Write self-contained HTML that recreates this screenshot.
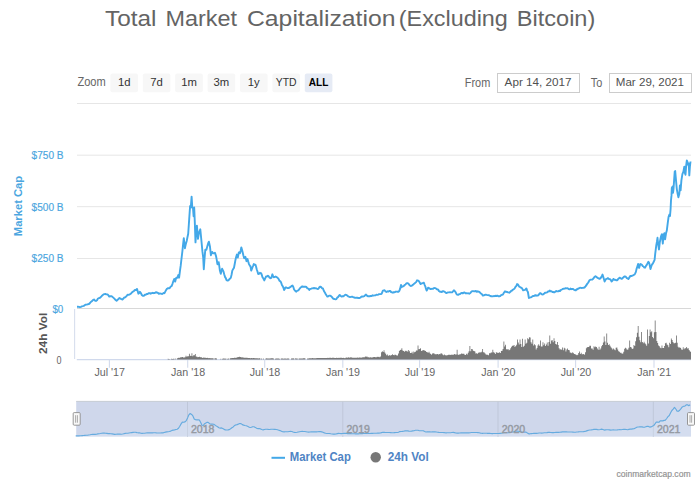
<!DOCTYPE html>
<html>
<head>
<meta charset="utf-8">
<title>Total Market Capitalization (Excluding Bitcoin)</title>
<style>
html,body{margin:0;padding:0;background:#fff;}
body{width:700px;height:481px;overflow:hidden;font-family:"Liberation Sans",sans-serif;}
svg{display:block;}
text{font-family:"Liberation Sans",sans-serif;}
</style>
</head>
<body>
<svg width="700" height="481" viewBox="0 0 700 481">
<rect x="0" y="0" width="700" height="481" fill="#ffffff"/>

<!-- title -->
<g font-size="22" fill="#646464">
<text x="105" y="26" textLength="51.5" lengthAdjust="spacingAndGlyphs">Total</text>
<text x="165.5" y="26" textLength="71.5" lengthAdjust="spacingAndGlyphs">Market</text>
<text x="247" y="26" textLength="148.5" lengthAdjust="spacingAndGlyphs">Capitalization</text>
<text x="398.8" y="26" textLength="109" lengthAdjust="spacingAndGlyphs">(Excluding</text>
<text x="516.8" y="26" textLength="78.5" lengthAdjust="spacingAndGlyphs">Bitcoin)</text>
</g>

<!-- range selector -->
<text x="77.4" y="86.4" font-size="12.3" fill="#666666" textLength="28.3" lengthAdjust="spacingAndGlyphs">Zoom</text>
<g font-size="11.3" fill="#333333" text-anchor="middle">
<rect x="110.4" y="73.6" width="27.6" height="18.6" rx="2" fill="#f7f7f7"/>
<text x="124.2" y="86.2">1d</text>
<rect x="142.8" y="73.6" width="27.6" height="18.6" rx="2" fill="#f7f7f7"/>
<text x="156.6" y="86.2">7d</text>
<rect x="175.2" y="73.6" width="27.6" height="18.6" rx="2" fill="#f7f7f7"/>
<text x="189.0" y="86.2">1m</text>
<rect x="207.6" y="73.6" width="27.6" height="18.6" rx="2" fill="#f7f7f7"/>
<text x="221.4" y="86.2">3m</text>
<rect x="240.0" y="73.6" width="27.6" height="18.6" rx="2" fill="#f7f7f7"/>
<text x="253.8" y="86.2">1y</text>
<rect x="272.4" y="73.6" width="27.6" height="18.6" rx="2" fill="#f7f7f7"/>
<text x="286.2" y="86.2" textLength="20.8" lengthAdjust="spacingAndGlyphs">YTD</text>
<rect x="304.8" y="73.6" width="27.6" height="18.6" rx="2" fill="#e6ebf5"/>
<text x="318.6" y="86.2" font-weight="bold" fill="#000000" textLength="19.6" lengthAdjust="spacingAndGlyphs">ALL</text>
</g>

<text x="464.8" y="86.6" font-size="12" fill="#666666" textLength="25.5" lengthAdjust="spacingAndGlyphs">From</text>
<rect x="497.5" y="73.5" width="82" height="19" fill="#ffffff" stroke="#cccccc" stroke-width="1"/>
<text x="538.1" y="86.3" font-size="11.8" fill="#505050" text-anchor="middle" textLength="67" lengthAdjust="spacingAndGlyphs">Apr 14, 2017</text>
<text x="590.8" y="86.6" font-size="12" fill="#666666" textLength="11.5" lengthAdjust="spacingAndGlyphs">To</text>
<rect x="609.5" y="73.5" width="82" height="19" fill="#ffffff" stroke="#cccccc" stroke-width="1"/>
<text x="649.9" y="86.3" font-size="11.8" fill="#505050" text-anchor="middle" textLength="68.2" lengthAdjust="spacingAndGlyphs">Mar 29, 2021</text>

<!-- separator -->
<line x1="77" y1="103.5" x2="691" y2="103.5" stroke="#e6e6e6" stroke-width="1"/>

<!-- grid lines -->
<g stroke="#e6e6e6" stroke-width="1">
<line x1="77" y1="155.2" x2="691" y2="155.2"/>
<line x1="77" y1="206.7" x2="691" y2="206.7"/>
<line x1="77" y1="258.5" x2="691" y2="258.5"/>
<line x1="77" y1="308.5" x2="691" y2="308.5" stroke="#d8d8d8"/>
</g>

<!-- y axis labels -->
<g font-size="10" fill="#4ba6e0" stroke="#4ba6e0" stroke-width="0.15">
<text x="31.6" y="159.4" textLength="32" lengthAdjust="spacingAndGlyphs">$750 B</text>
<text x="31.6" y="210.8" textLength="32" lengthAdjust="spacingAndGlyphs">$500 B</text>
<text x="31.6" y="261.9" textLength="32" lengthAdjust="spacingAndGlyphs">$250 B</text>
<text x="52.4" y="312.8" textLength="10.9" lengthAdjust="spacingAndGlyphs">$0</text>
</g>
<text x="56.6" y="363.5" font-size="10" fill="#666666" textLength="5" lengthAdjust="spacingAndGlyphs">0</text>

<!-- axis titles -->
<text transform="translate(21.6,236.2) rotate(-90)" font-size="11.2" font-weight="bold" fill="#4ba6e0" textLength="60.4" lengthAdjust="spacingAndGlyphs">Market Cap</text>
<text transform="translate(47.1,354) rotate(-90)" font-size="11.5" font-weight="bold" fill="#555555" textLength="41.2" lengthAdjust="spacingAndGlyphs">24h Vol</text>

<!-- volume axis line + x axis -->
<line x1="74.6" y1="309" x2="74.6" y2="358.9" stroke="#d8dfee" stroke-width="1.1"/>
<line x1="76.8" y1="359.6" x2="691" y2="359.6" stroke="#d0d9ec" stroke-width="1.1"/>
<g stroke="#d3dbec" stroke-width="1.1">
<line x1="109.4" y1="359.5" x2="109.4" y2="367.7"/>
<line x1="187.7" y1="359.5" x2="187.7" y2="367.7"/>
<line x1="264.7" y1="359.5" x2="264.7" y2="367.7"/>
<line x1="342.8" y1="359.5" x2="342.8" y2="367.7"/>
<line x1="419.6" y1="359.5" x2="419.6" y2="367.7"/>
<line x1="498.1" y1="359.5" x2="498.1" y2="367.7"/>
<line x1="575.6" y1="359.5" x2="575.6" y2="367.7"/>
<line x1="654.0" y1="359.5" x2="654.0" y2="367.7"/>
</g>
<g font-size="10.7" fill="#666666" text-anchor="middle">
<text x="109.7" y="375.9">Jul '17</text>
<text x="188.1" y="375.9">Jan '18</text>
<text x="265" y="375.9">Jul '18</text>
<text x="343" y="375.9">Jan '19</text>
<text x="420" y="375.9">Jul '19</text>
<text x="498.3" y="375.9">Jan '20</text>
<text x="576" y="375.9">Jul '20</text>
<text x="654.2" y="375.9">Jan '21</text>
</g>

<!-- volume -->
<path d="M166 359.5L166.00 359.50 L166.85 359.50L166.85 359.50 L167.70 359.50L167.70 358.80 L168.55 358.80L168.55 358.96 L169.40 358.96L169.40 359.13 L170.25 359.13L170.25 359.50 L171.10 359.50L171.10 358.86 L171.95 358.86L171.95 358.92 L172.80 358.92L172.80 358.83 L173.65 358.83L173.65 358.87 L174.50 358.87L174.50 359.50 L175.35 359.50L175.35 358.53 L176.20 358.53L176.20 359.50 L177.05 359.50L177.05 358.27 L177.90 358.27L177.90 357.80 L178.75 357.80L178.75 357.89 L179.60 357.89L179.60 357.42 L180.45 357.42L180.45 357.13 L181.30 357.13L181.30 357.16 L182.15 357.16L182.15 357.02 L183.00 357.02L183.00 357.53 L183.85 357.53L183.85 357.59 L184.70 357.59L184.70 357.28 L185.55 357.28L185.55 355.70 L186.40 355.70L186.40 356.69 L187.25 356.69L187.25 356.32 L188.10 356.32L188.10 356.24 L188.95 356.24L188.95 353.70 L189.80 353.70L189.80 355.86 L190.65 355.86L190.65 355.96 L191.50 355.96L191.50 353.30 L192.35 353.30L192.35 356.13 L193.20 356.13L193.20 355.34 L194.05 355.34L194.05 355.28 L194.90 355.28L194.90 353.90 L195.75 353.90L195.75 356.62 L196.60 356.62L196.60 356.82 L197.45 356.82L197.45 357.18 L198.30 357.18L198.30 356.92 L199.15 356.92L199.15 356.85 L200.00 356.85L200.00 357.20 L200.85 357.20L200.85 357.03 L201.70 357.03L201.70 357.90 L202.55 357.90L202.55 357.75 L203.40 357.75L203.40 357.50 L204.25 357.50L204.25 357.83 L205.10 357.83L205.10 357.63 L205.95 357.63L205.95 358.03 L206.80 358.03L206.80 357.86 L207.65 357.86L207.65 357.99 L208.50 357.99L208.50 358.16 L209.35 358.16L209.35 358.08 L210.20 358.08L210.20 358.35 L211.05 358.35L211.05 358.28 L211.90 358.28L211.90 358.37 L212.75 358.37L212.75 358.22 L213.60 358.22L213.60 359.50 L214.45 359.50L214.45 358.35 L215.30 358.35L215.30 358.27 L216.15 358.27L216.15 358.53 L217.00 358.53L217.00 359.50 L217.85 359.50L217.85 359.50 L218.70 359.50L218.70 359.50 L219.55 359.50L219.55 359.50 L220.40 359.50L220.40 358.64 L221.25 358.64L221.25 359.50 L222.10 359.50L222.10 358.63 L222.95 358.63L222.95 358.54 L223.80 358.54L223.80 358.57 L224.65 358.57L224.65 358.72 L225.50 358.72L225.50 358.61 L226.35 358.61L226.35 359.50 L227.20 359.50L227.20 358.63 L228.05 358.63L228.05 358.47 L228.90 358.47L228.90 359.50 L229.75 359.50L229.75 358.33 L230.60 358.33L230.60 358.20 L231.45 358.20L231.45 357.95 L232.30 357.95L232.30 357.97 L233.15 357.97L233.15 357.97 L234.00 357.97L234.00 357.84 L234.85 357.84L234.85 357.72 L235.70 357.72L235.70 357.94 L236.55 357.94L236.55 357.27 L237.40 357.27L237.40 357.17 L238.25 357.17L238.25 356.93 L239.10 356.93L239.10 356.81 L239.95 356.81L239.95 357.12 L240.80 357.12L240.80 357.21 L241.65 357.21L241.65 357.52 L242.50 357.52L242.50 357.26 L243.35 357.26L243.35 357.72 L244.20 357.72L244.20 357.76 L245.05 357.76L245.05 357.72 L245.90 357.72L245.90 357.80 L246.75 357.80L246.75 357.76 L247.60 357.76L247.60 358.00 L248.45 358.00L248.45 358.10 L249.30 358.10L249.30 358.09 L250.15 358.09L250.15 358.18 L251.00 358.18L251.00 358.08 L251.85 358.08L251.85 358.26 L252.70 358.26L252.70 357.90 L253.55 357.90L253.55 358.04 L254.40 358.04L254.40 358.27 L255.25 358.27L255.25 358.25 L256.10 358.25L256.10 358.24 L256.95 358.24L256.95 358.27 L257.80 358.27L257.80 358.40 L258.65 358.40L258.65 358.16 L259.50 358.16L259.50 358.35 L260.35 358.35L260.35 359.50 L261.20 359.50L261.20 358.47 L262.05 358.47L262.05 359.50 L262.90 359.50L262.90 358.61 L263.75 358.61L263.75 359.50 L264.60 359.50L264.60 359.50 L265.45 359.50L265.45 358.45 L266.30 358.45L266.30 358.34 L267.15 358.34L267.15 358.53 L268.00 358.53L268.00 358.56 L268.85 358.56L268.85 358.44 L269.70 358.44L269.70 358.51 L270.55 358.51L270.55 358.36 L271.40 358.36L271.40 358.35 L272.25 358.35L272.25 358.37 L273.10 358.37L273.10 358.57 L273.95 358.57L273.95 359.50 L274.80 359.50L274.80 358.65 L275.65 358.65L275.65 358.58 L276.50 358.58L276.50 358.38 L277.35 358.38L277.35 358.39 L278.20 358.39L278.20 358.39 L279.05 358.39L279.05 358.63 L279.90 358.63L279.90 359.50 L280.75 359.50L280.75 358.51 L281.60 358.51L281.60 358.45 L282.45 358.45L282.45 358.50 L283.30 358.50L283.30 358.67 L284.15 358.67L284.15 358.43 L285.00 358.43L285.00 358.47 L285.85 358.47L285.85 358.65 L286.70 358.65L286.70 358.60 L287.55 358.60L287.55 358.41 L288.40 358.41L288.40 358.58 L289.25 358.58L289.25 359.50 L290.10 359.50L290.10 359.50 L290.95 359.50L290.95 358.39 L291.80 358.39L291.80 358.61 L292.65 358.61L292.65 358.33 L293.50 358.33L293.50 358.52 L294.35 358.52L294.35 359.50 L295.20 359.50L295.20 358.28 L296.05 358.28L296.05 358.41 L296.90 358.41L296.90 358.43 L297.75 358.43L297.75 359.50 L298.60 359.50L298.60 358.46 L299.45 358.46L299.45 358.45 L300.30 358.45L300.30 358.44 L301.15 358.44L301.15 358.48 L302.00 358.48L302.00 358.39 L302.85 358.39L302.85 358.29 L303.70 358.29L303.70 358.35 L304.55 358.35L304.55 358.31 L305.40 358.31L305.40 359.50 L306.25 359.50L306.25 359.50 L307.10 359.50L307.10 358.47 L307.95 358.47L307.95 358.40 L308.80 358.40L308.80 358.18 L309.65 358.18L309.65 358.32 L310.50 358.32L310.50 358.23 L311.35 358.23L311.35 358.20 L312.20 358.20L312.20 358.09 L313.05 358.09L313.05 358.35 L313.90 358.35L313.90 358.15 L314.75 358.15L314.75 358.27 L315.60 358.27L315.60 358.24 L316.45 358.24L316.45 358.01 L317.30 358.01L317.30 358.11 L318.15 358.11L318.15 358.07 L319.00 358.07L319.00 357.96 L319.85 357.96L319.85 357.88 L320.70 357.88L320.70 358.09 L321.55 358.09L321.55 358.00 L322.40 358.00L322.40 358.04 L323.25 358.04L323.25 358.03 L324.10 358.03L324.10 357.94 L324.95 357.94L324.95 358.04 L325.80 358.04L325.80 358.00 L326.65 358.00L326.65 358.01 L327.50 358.01L327.50 357.79 L328.35 357.79L328.35 357.89 L329.20 357.89L329.20 357.80 L330.05 357.80L330.05 357.73 L330.90 357.73L330.90 358.04 L331.75 358.04L331.75 357.86 L332.60 357.86L332.60 357.64 L333.45 357.64L333.45 357.66 L334.30 357.66L334.30 358.00 L335.15 358.00L335.15 357.99 L336.00 357.99L336.00 357.78 L336.85 357.78L336.85 357.96 L337.70 357.96L337.70 357.84 L338.55 357.84L338.55 357.94 L339.40 357.94L339.40 357.65 L340.25 357.65L340.25 357.64 L341.10 357.64L341.10 357.64 L341.95 357.64L341.95 358.07 L342.80 358.07L342.80 357.84 L343.65 357.84L343.65 357.92 L344.50 357.92L344.50 358.19 L345.35 358.19L345.35 357.69 L346.20 357.69L346.20 357.49 L347.05 357.49L347.05 357.78 L347.90 357.78L347.90 357.34 L348.75 357.34L348.75 357.67 L349.60 357.67L349.60 357.62 L350.45 357.62L350.45 357.34 L351.30 357.34L351.30 357.44 L352.15 357.44L352.15 357.84 L353.00 357.84L353.00 357.69 L353.85 357.69L353.85 357.65 L354.70 357.65L354.70 357.76 L355.55 357.76L355.55 357.85 L356.40 357.85L356.40 357.79 L357.25 357.79L357.25 357.50 L358.10 357.50L358.10 357.87 L358.95 357.87L358.95 357.50 L359.80 357.50L359.80 357.52 L360.65 357.52L360.65 357.75 L361.50 357.75L361.50 357.48 L362.35 357.48L362.35 357.17 L363.20 357.17L363.20 357.14 L364.05 357.14L364.05 357.37 L364.90 357.37L364.90 356.53 L365.75 356.53L365.75 356.63 L366.60 356.63L366.60 356.48 L367.45 356.48L367.45 357.32 L368.30 357.32L368.30 357.32 L369.15 357.32L369.15 357.60 L370.00 357.60L370.00 357.19 L370.85 357.19L370.85 357.50 L371.70 357.50L371.70 357.57 L372.55 357.57L372.55 357.34 L373.40 357.34L373.40 356.96 L374.25 356.96L374.25 356.98 L375.10 356.98L375.10 357.33 L375.95 357.33L375.95 357.36 L376.80 357.36L376.80 356.71 L377.65 356.71L377.65 356.92 L378.50 356.92L378.50 356.75 L379.35 356.75L379.35 357.20 L380.20 357.20L380.20 356.57 L381.05 356.57L381.05 352.14 L381.90 352.14L381.90 351.13 L382.75 351.13L382.75 352.08 L383.60 352.08L383.60 350.20 L384.45 350.20L384.45 352.43 L385.30 352.43L385.30 353.81 L386.15 353.81L386.15 355.29 L387.00 355.29L387.00 354.50 L387.85 354.50L387.85 355.92 L388.70 355.92L388.70 355.07 L389.55 355.07L389.55 355.41 L390.40 355.41L390.40 355.40 L391.25 355.40L391.25 354.93 L392.10 354.93L392.10 354.21 L392.95 354.21L392.95 355.02 L393.80 355.02L393.80 355.18 L394.65 355.18L394.65 354.56 L395.50 354.56L395.50 355.11 L396.35 355.11L396.35 355.40 L397.20 355.40L397.20 355.39 L398.05 355.39L398.05 353.55 L398.90 353.55L398.90 351.10 L399.75 351.10L399.75 350.11 L400.60 350.11L400.60 349.79 L401.45 349.79L401.45 348.31 L402.30 348.31L402.30 350.47 L403.15 350.47L403.15 350.93 L404.00 350.93L404.00 351.65 L404.85 351.65L404.85 350.69 L405.70 350.69L405.70 351.34 L406.55 351.34L406.55 350.64 L407.40 350.64L407.40 351.70 L408.25 351.70L408.25 350.06 L409.10 350.06L409.10 351.36 L409.95 351.36L409.95 352.98 L410.80 352.98L410.80 353.08 L411.65 353.08L411.65 351.85 L412.50 351.85L412.50 353.38 L413.35 353.38L413.35 351.52 L414.20 351.52L414.20 352.15 L415.05 352.15L415.05 351.75 L415.90 351.75L415.90 350.47 L416.75 350.47L416.75 350.61 L417.60 350.61L417.60 345.50 L418.45 345.50L418.45 349.32 L419.30 349.32L419.30 348.97 L420.15 348.97L420.15 348.29 L421.00 348.29L421.00 350.92 L421.85 350.92L421.85 350.39 L422.70 350.39L422.70 350.32 L423.55 350.32L423.55 350.12 L424.40 350.12L424.40 350.71 L425.25 350.71L425.25 350.88 L426.10 350.88L426.10 352.04 L426.95 352.04L426.95 352.16 L427.80 352.16L427.80 352.66 L428.65 352.66L428.65 351.65 L429.50 351.65L429.50 353.33 L430.35 353.33L430.35 354.07 L431.20 354.07L431.20 354.75 L432.05 354.75L432.05 353.44 L432.90 353.44L432.90 353.29 L433.75 353.29L433.75 353.55 L434.60 353.55L434.60 354.20 L435.45 354.20L435.45 354.27 L436.30 354.27L436.30 354.19 L437.15 354.19L437.15 353.91 L438.00 353.91L438.00 354.47 L438.85 354.47L438.85 353.97 L439.70 353.97L439.70 354.31 L440.55 354.31L440.55 353.29 L441.40 353.29L441.40 353.60 L442.25 353.60L442.25 354.57 L443.10 354.57L443.10 355.30 L443.95 355.30L443.95 354.40 L444.80 354.40L444.80 355.27 L445.65 355.27L445.65 355.15 L446.50 355.15L446.50 355.61 L447.35 355.61L447.35 355.00 L448.20 355.00L448.20 354.80 L449.05 354.80L449.05 354.65 L449.90 354.65L449.90 355.00 L450.75 355.00L450.75 354.39 L451.60 354.39L451.60 355.09 L452.45 355.09L452.45 354.54 L453.30 354.54L453.30 354.72 L454.15 354.72L454.15 354.06 L455.00 354.06L455.00 354.60 L455.85 354.60L455.85 354.55 L456.70 354.55L456.70 349.80 L457.55 349.80L457.55 354.41 L458.40 354.41L458.40 354.95 L459.25 354.95L459.25 354.21 L460.10 354.21L460.10 354.13 L460.95 354.13L460.95 353.56 L461.80 353.56L461.80 353.73 L462.65 353.73L462.65 353.64 L463.50 353.64L463.50 353.67 L464.35 353.67L464.35 354.75 L465.20 354.75L465.20 355.12 L466.05 355.12L466.05 353.65 L466.90 353.65L466.90 354.40 L467.75 354.40L467.75 352.65 L468.60 352.65L468.60 351.24 L469.45 351.24L469.45 346.10 L470.30 346.10L470.30 351.22 L471.15 351.22L471.15 349.07 L472.00 349.07L472.00 349.23 L472.85 349.23L472.85 350.63 L473.70 350.63L473.70 351.00 L474.55 351.00L474.55 351.47 L475.40 351.47L475.40 353.53 L476.25 353.53L476.25 353.28 L477.10 353.28L477.10 353.65 L477.95 353.65L477.95 352.78 L478.80 352.78L478.80 352.57 L479.65 352.57L479.65 352.27 L480.50 352.27L480.50 352.61 L481.35 352.61L481.35 351.78 L482.20 351.78L482.20 348.90 L483.05 348.90L483.05 352.33 L483.90 352.33L483.90 352.44 L484.75 352.44L484.75 353.59 L485.60 353.59L485.60 354.42 L486.45 354.42L486.45 354.67 L487.30 354.67L487.30 354.76 L488.15 354.76L488.15 355.20 L489.00 355.20L489.00 353.33 L489.85 353.33L489.85 353.14 L490.70 353.14L490.70 352.60 L491.55 352.60L491.55 352.44 L492.40 352.44L492.40 349.80 L493.25 349.80L493.25 352.29 L494.10 352.29L494.10 352.85 L494.95 352.85L494.95 353.97 L495.80 353.97L495.80 352.33 L496.65 352.33L496.65 352.43 L497.50 352.43L497.50 352.94 L498.35 352.94L498.35 352.87 L499.20 352.87L499.20 352.20 L500.05 352.20L500.05 353.05 L500.90 353.05L500.90 350.91 L501.75 350.91L501.75 350.72 L502.60 350.72L502.60 348.93 L503.45 348.93L503.45 341.50 L504.30 341.50L504.30 346.39 L505.15 346.39L505.15 344.79 L506.00 344.79L506.00 349.34 L506.85 349.34L506.85 349.59 L507.70 349.59L507.70 348.90 L508.55 348.90L508.55 350.30 L509.40 350.30L509.40 349.78 L510.25 349.78L510.25 348.33 L511.10 348.33L511.10 346.73 L511.95 346.73L511.95 345.82 L512.80 345.82L512.80 345.85 L513.65 345.85L513.65 345.11 L514.50 345.11L514.50 346.89 L515.35 346.89L515.35 345.88 L516.20 345.88L516.20 344.64 L517.05 344.64L517.05 339.60 L517.90 339.60L517.90 342.61 L518.75 342.61L518.75 344.48 L519.60 344.48L519.60 339.60 L520.45 339.60L520.45 344.11 L521.30 344.11L521.30 347.10 L522.15 347.10L522.15 338.70 L523.00 338.70L523.00 346.63 L523.85 346.63L523.85 345.76 L524.70 345.76L524.70 339.60 L525.55 339.60L525.55 343.64 L526.40 343.64L526.40 342.79 L527.25 342.79L527.25 338.28 L528.10 338.28L528.10 339.23 L528.95 339.23L528.95 337.15 L529.80 337.15L529.80 337.52 L530.65 337.52L530.65 342.30 L531.50 342.30L531.50 343.84 L532.35 343.84L532.35 339.48 L533.20 339.48L533.20 345.62 L534.05 345.62L534.05 344.14 L534.90 344.14L534.90 345.23 L535.75 345.23L535.75 349.56 L536.60 349.56L536.60 347.88 L537.45 347.88L537.45 345.59 L538.30 345.59L538.30 344.19 L539.15 344.19L539.15 345.70 L540.00 345.70L540.00 340.60 L540.85 340.60L540.85 346.51 L541.70 346.51L541.70 346.51 L542.55 346.51L542.55 342.27 L543.40 342.27L543.40 345.36 L544.25 345.36L544.25 343.53 L545.10 343.53L545.10 346.03 L545.95 346.03L545.95 344.57 L546.80 344.57L546.80 342.40 L547.65 342.40L547.65 345.81 L548.50 345.81L548.50 341.88 L549.35 341.88L549.35 335.50 L550.20 335.50L550.20 343.65 L551.05 343.65L551.05 340.59 L551.90 340.59L551.90 340.24 L552.75 340.24L552.75 342.30 L553.60 342.30L553.60 338.35 L554.45 338.35L554.45 341.12 L555.30 341.12L555.30 344.09 L556.15 344.09L556.15 344.48 L557.00 344.48L557.00 342.07 L557.85 342.07L557.85 344.94 L558.70 344.94L558.70 348.16 L559.55 348.16L559.55 349.46 L560.40 349.46L560.40 349.23 L561.25 349.23L561.25 349.73 L562.10 349.73L562.10 347.45 L562.95 347.45L562.95 350.32 L563.80 350.32L563.80 347.75 L564.65 347.75L564.65 348.44 L565.50 348.44L565.50 351.51 L566.35 351.51L566.35 349.51 L567.20 349.51L567.20 348.50 L568.05 348.50L568.05 349.96 L568.90 349.96L568.90 350.17 L569.75 350.17L569.75 352.39 L570.60 352.39L570.60 352.82 L571.45 352.82L571.45 353.21 L572.30 353.21L572.30 352.28 L573.15 352.28L573.15 353.36 L574.00 353.36L574.00 354.05 L574.85 354.05L574.85 354.19 L575.70 354.19L575.70 354.70 L576.55 354.70L576.55 355.25 L577.40 355.25L577.40 354.79 L578.25 354.79L578.25 353.05 L579.10 353.05L579.10 351.50 L579.95 351.50L579.95 353.98 L580.80 353.98L580.80 352.87 L581.65 352.87L581.65 354.22 L582.50 354.22L582.50 354.31 L583.35 354.31L583.35 354.04 L584.20 354.04L584.20 354.74 L585.05 354.74L585.05 352.28 L585.90 352.28L585.90 348.31 L586.75 348.31L586.75 347.36 L587.60 347.36L587.60 347.01 L588.45 347.01L588.45 347.10 L589.30 347.10L589.30 345.78 L590.15 345.78L590.15 345.67 L591.00 345.67L591.00 348.41 L591.85 348.41L591.85 348.45 L592.70 348.45L592.70 349.77 L593.55 349.77L593.55 346.24 L594.40 346.24L594.40 347.34 L595.25 347.34L595.25 346.41 L596.10 346.41L596.10 347.06 L596.95 347.06L596.95 348.61 L597.80 348.61L597.80 349.68 L598.65 349.68L598.65 346.80 L599.50 346.80L599.50 349.86 L600.35 349.86L600.35 348.47 L601.20 348.47L601.20 346.18 L602.05 346.18L602.05 345.05 L602.90 345.05L602.90 342.46 L603.75 342.46L603.75 336.50 L604.60 336.50L604.60 341.51 L605.45 341.51L605.45 345.06 L606.30 345.06L606.30 333.50 L607.15 333.50L607.15 342.84 L608.00 342.84L608.00 345.05 L608.85 345.05L608.85 344.36 L609.70 344.36L609.70 345.73 L610.55 345.73L610.55 347.30 L611.40 347.30L611.40 348.30 L612.25 348.30L612.25 349.58 L613.10 349.58L613.10 348.53 L613.95 348.53L613.95 349.58 L614.80 349.58L614.80 350.27 L615.65 350.27L615.65 347.84 L616.50 347.84L616.50 347.55 L617.35 347.55L617.35 349.54 L618.20 349.54L618.20 351.25 L619.05 351.25L619.05 351.82 L619.90 351.82L619.90 352.80 L620.75 352.80L620.75 352.73 L621.60 352.73L621.60 353.76 L622.45 353.76L622.45 353.62 L623.30 353.62L623.30 351.71 L624.15 351.71L624.15 348.82 L625.00 348.82L625.00 347.77 L625.85 347.77L625.85 348.52 L626.70 348.52L626.70 349.86 L627.55 349.86L627.55 349.58 L628.40 349.58L628.40 347.74 L629.25 347.74L629.25 340.50 L630.10 340.50L630.10 347.07 L630.95 347.07L630.95 347.54 L631.80 347.54L631.80 348.93 L632.65 348.93L632.65 348.40 L633.50 348.40L633.50 345.08 L634.35 345.08L634.35 345.93 L635.20 345.93L635.20 341.25 L636.05 341.25L636.05 337.37 L636.90 337.37L636.90 332.83 L637.75 332.83L637.75 326.10 L638.60 326.10L638.60 336.80 L639.45 336.80L639.45 340.25 L640.30 340.25L640.30 342.29 L641.15 342.29L641.15 332.10 L642.00 332.10L642.00 341.92 L642.85 341.92L642.85 343.33 L643.70 343.33L643.70 341.80 L644.55 341.80L644.55 343.21 L645.40 343.21L645.40 344.18 L646.25 344.18L646.25 345.75 L647.10 345.75L647.10 329.50 L647.95 329.50L647.95 343.54 L648.80 343.54L648.80 336.02 L649.65 336.02L649.65 329.48 L650.50 329.48L650.50 332.34 L651.35 332.34L651.35 331.36 L652.20 331.36L652.20 336.94 L653.05 336.94L653.05 338.31 L653.90 338.31L653.90 332.35 L654.75 332.35L654.75 320.50 L655.60 320.50L655.60 332.00 L656.45 332.00L656.45 340.93 L657.30 340.93L657.30 342.88 L658.15 342.88L658.15 345.51 L659.00 345.51L659.00 346.18 L659.85 346.18L659.85 347.76 L660.70 347.76L660.70 348.26 L661.55 348.26L661.55 345.50 L662.40 345.50L662.40 347.90 L663.25 347.90L663.25 347.89 L664.10 347.89L664.10 345.95 L664.95 345.95L664.95 343.29 L665.80 343.29L665.80 342.72 L666.65 342.72L666.65 344.48 L667.50 344.48L667.50 345.26 L668.35 345.26L668.35 347.16 L669.20 347.16L669.20 342.84 L670.05 342.84L670.05 344.02 L670.90 344.02L670.90 338.52 L671.75 338.52L671.75 339.93 L672.60 339.93L672.60 341.94 L673.45 341.94L673.45 343.34 L674.30 343.34L674.30 343.36 L675.15 343.36L675.15 342.81 L676.00 342.81L676.00 335.50 L676.85 335.50L676.85 342.86 L677.70 342.86L677.70 346.67 L678.55 346.67L678.55 347.86 L679.40 347.86L679.40 347.15 L680.25 347.15L680.25 348.05 L681.10 348.05L681.10 349.51 L681.95 349.51L681.95 349.79 L682.80 349.79L682.80 347.27 L683.65 347.27L683.65 349.33 L684.50 349.33L684.50 348.22 L685.35 348.22L685.35 348.15 L686.20 348.15L686.20 346.96 L687.05 346.96L687.05 348.60 L687.90 348.60L687.90 348.26 L688.75 348.26L688.75 349.96 L689.60 349.96L689.60 351.32 L690.45 351.32L690.45 352.03 L691.00 352.03L691 359.5 Z" fill="#777777" stroke="none"/>

<!-- main line -->
<path d="M77.0 306.8 L78.0 306.8 L79.0 306.9 L79.9 307.2 L80.9 306.8 L81.8 306.4 L82.8 306.1 L83.7 305.8 L84.6 305.3 L85.6 304.6 L86.6 304.6 L87.7 304.3 L88.7 304.1 L89.7 303.4 L90.8 302.0 L91.8 301.3 L92.9 300.1 L94.0 299.5 L95.0 300.6 L95.9 301.0 L97.0 300.2 L98.0 298.5 L99.1 298.0 L100.0 297.8 L100.9 297.0 L101.7 296.0 L102.6 295.2 L103.5 294.4 L104.4 294.1 L105.3 293.9 L106.2 294.4 L107.1 294.4 L107.8 294.7 L108.6 295.6 L109.3 296.6 L110.3 296.3 L111.2 296.1 L112.2 296.6 L113.3 297.6 L114.4 298.6 L115.5 300.0 L116.6 300.7 L117.6 299.8 L118.5 299.0 L119.5 298.0 L120.5 298.5 L121.4 299.2 L122.4 299.5 L123.4 298.5 L124.4 297.4 L125.5 297.2 L126.5 296.2 L127.5 294.8 L128.6 294.9 L129.7 294.4 L130.7 293.8 L131.8 292.6 L132.8 291.8 L133.9 291.0 L134.9 290.0 L136.0 290.0 L137.0 288.9 L137.7 291.2 L138.4 293.7 L139.2 293.1 L139.9 291.8 L140.9 293.1 L141.8 295.0 L142.8 295.9 L143.8 295.9 L144.7 294.7 L145.7 294.8 L146.7 294.0 L147.6 294.1 L148.6 293.2 L149.6 293.2 L150.6 293.7 L151.7 293.1 L152.7 292.8 L153.7 293.2 L154.4 293.0 L155.2 292.8 L155.9 292.2 L156.9 292.5 L157.8 292.8 L158.8 293.7 L159.9 293.5 L161.0 293.6 L161.9 294.0 L162.8 293.7 L163.6 292.9 L164.5 293.2 L165.4 291.4 L166.2 289.8 L167.1 288.7 L168.1 288.1 L169.0 288.4 L169.9 287.9 L170.7 286.5 L171.6 286.1 L172.5 283.8 L173.3 281.3 L174.2 279.0 L175.2 281.6 L176.1 278.1 L176.8 277.6 L177.4 277.7 L178.3 275.1 L179.1 277.7 L180.0 270.6 L180.7 265.7 L181.3 260.3 L182.4 251.2 L183.1 244.3 L183.8 238.1 L184.9 248.2 L185.7 244.6 L186.7 241.0 L187.4 237.5 L188.2 233.7 L189.2 219.1 L190.1 206.0 L190.8 207.5 L191.6 196.6 L192.3 207.5 L193.0 208.2 L193.6 216.2 L194.2 207.5 L194.8 222.0 L195.5 242.4 L196.2 232.2 L196.9 225.7 L198.0 238.8 L198.8 233.7 L199.6 231.1 L200.3 229.3 L201.3 239.5 L202.4 251.2 L203.2 257.7 L203.8 269.3 L204.6 257.7 L205.3 249.7 L206.4 249.7 L207.0 247.4 L207.6 245.3 L208.2 243.2 L208.9 241.7 L210.0 246.8 L210.9 255.2 L211.6 253.3 L212.2 251.9 L212.9 253.1 L213.7 253.3 L214.3 253.4 L215.0 252.8 L216.1 256.4 L216.8 260.1 L217.4 264.2 L218.1 263.6 L218.7 262.2 L219.3 266.1 L219.9 270.6 L220.8 273.8 L221.4 271.1 L222.1 268.7 L222.8 270.4 L223.4 271.3 L224.2 274.3 L225.1 277.1 L225.8 278.1 L226.4 279.9 L227.5 280.6 L228.6 280.3 L229.3 279.2 L230.1 278.5 L230.8 277.9 L231.6 274.5 L232.3 270.6 L233.2 269.0 L234.0 267.7 L234.8 263.5 L235.5 259.7 L236.2 256.7 L236.9 254.6 L237.8 257.5 L238.8 252.5 L239.4 252.4 L240.0 253.2 L240.7 250.4 L241.3 247.4 L242.0 249.7 L242.7 252.5 L243.4 255.5 L244.2 258.3 L244.8 257.4 L245.4 256.8 L246.5 261.2 L247.5 259.0 L248.2 261.5 L249.0 264.1 L249.8 265.7 L250.5 266.3 L251.2 270.6 L251.9 268.8 L252.6 267.0 L253.2 265.6 L253.8 264.1 L254.7 264.8 L255.5 264.8 L256.1 266.7 L256.7 269.2 L257.4 271.3 L258.2 274.0 L259.0 273.8 L259.9 272.8 L260.5 273.3 L261.1 273.1 L261.8 274.9 L262.5 277.2 L263.4 278.5 L264.3 280.4 L265.1 278.7 L266.0 276.5 L266.9 276.5 L267.9 275.7 L268.6 276.3 L269.4 277.5 L270.4 278.2 L271.3 277.9 L272.4 274.3 L273.0 276.1 L273.7 277.2 L274.6 277.0 L275.6 276.5 L276.6 277.1 L277.7 277.9 L278.6 279.0 L279.5 280.8 L280.2 281.1 L281.0 282.3 L281.9 284.9 L282.9 286.6 L283.5 288.0 L284.1 290.0 L284.8 288.9 L285.4 287.4 L286.4 287.5 L287.5 288.1 L288.6 288.1 L289.7 287.4 L290.7 286.9 L291.6 286.0 L292.6 285.6 L293.4 287.2 L294.1 289.5 L295.2 290.8 L296.3 291.7 L297.4 290.6 L298.5 290.3 L299.6 288.7 L300.6 287.6 L301.4 287.0 L302.1 286.3 L303.2 286.8 L304.2 286.8 L305.3 286.6 L306.4 287.0 L307.4 288.4 L308.3 288.6 L309.3 289.9 L310.2 288.9 L311.2 288.7 L312.1 288.4 L313.1 288.3 L314.0 288.0 L315.0 288.4 L316.0 288.3 L316.9 288.7 L317.9 289.1 L318.7 288.3 L319.5 287.1 L320.3 286.6 L321.2 287.1 L322.0 288.2 L322.9 288.4 L323.9 291.0 L325.0 292.7 L325.8 294.2 L326.6 295.5 L327.4 296.6 L328.3 296.4 L329.1 295.6 L330.0 295.6 L331.0 296.1 L331.9 297.0 L332.9 298.4 L333.8 299.0 L334.6 299.0 L335.5 299.4 L336.4 299.1 L337.2 297.6 L338.0 297.1 L338.9 295.9 L339.7 294.9 L340.7 296.0 L341.7 296.6 L342.6 296.1 L343.4 296.4 L344.3 295.6 L345.4 294.8 L346.4 294.9 L347.2 295.5 L348.1 296.3 L348.9 296.7 L350.0 297.1 L351.0 296.9 L352.1 296.7 L353.2 297.2 L354.2 297.5 L355.3 297.9 L356.4 297.7 L357.2 297.7 L358.1 298.1 L358.9 298.0 L359.7 298.0 L360.6 297.5 L361.4 296.7 L362.1 296.5 L362.9 296.7 L363.6 296.3 L364.4 296.1 L365.2 295.2 L366.0 294.6 L366.9 295.6 L367.9 296.3 L368.8 296.1 L369.8 296.2 L370.7 296.0 L371.7 296.0 L372.6 295.3 L373.6 295.6 L374.5 295.4 L375.5 295.4 L376.4 294.6 L377.3 294.9 L378.2 294.6 L379.1 294.1 L380.0 294.1 L380.9 294.1 L381.7 293.7 L382.3 292.2 L382.9 290.6 L383.8 290.4 L384.6 290.3 L385.5 291.5 L386.4 292.0 L387.4 291.3 L388.3 291.6 L389.3 291.0 L390.2 291.0 L391.1 292.0 L392.0 292.3 L392.9 292.7 L393.8 292.1 L394.8 292.2 L395.7 291.6 L396.7 291.6 L397.6 291.8 L398.6 291.7 L399.3 290.8 L400.0 289.1 L401.0 284.9 L401.4 287.4 L402.1 286.8 L402.9 286.2 L403.6 286.3 L404.5 285.1 L405.5 284.5 L406.4 283.4 L407.1 283.2 L407.9 283.3 L408.6 283.7 L409.6 285.3 L410.7 286.0 L411.8 285.6 L412.9 284.9 L413.9 283.9 L415.0 283.1 L416.1 282.1 L417.1 280.3 L418.1 280.6 L419.0 281.3 L419.9 282.9 L420.7 284.1 L421.4 283.4 L422.1 283.4 L423.0 283.0 L423.9 282.7 L424.6 284.8 L425.3 286.3 L426.0 288.9 L426.7 290.6 L427.4 289.5 L428.1 287.7 L429.0 288.1 L429.8 288.7 L430.7 289.1 L431.8 288.8 L432.9 288.9 L433.9 288.1 L435.0 288.0 L436.0 288.5 L436.9 289.3 L437.9 289.4 L438.9 290.9 L440.0 291.7 L440.9 291.8 L441.8 292.0 L442.7 291.2 L443.6 291.3 L444.5 291.6 L445.5 292.5 L446.4 293.1 L447.3 292.7 L448.2 292.4 L449.1 292.4 L450.0 292.3 L451.1 292.4 L452.1 292.3 L453.0 291.3 L453.9 290.3 L454.8 291.1 L455.7 292.3 L456.4 293.8 L457.1 294.6 L458.1 294.9 L459.0 294.2 L460.0 294.1 L460.9 293.3 L461.8 292.9 L462.7 293.4 L463.6 292.7 L464.5 292.4 L465.5 293.2 L466.4 293.1 L467.4 293.4 L468.3 293.3 L469.3 293.7 L470.4 293.0 L471.4 291.7 L472.3 291.1 L473.2 291.1 L474.1 291.4 L475.0 291.3 L475.9 290.9 L476.8 291.8 L477.7 291.3 L478.6 291.7 L479.6 292.2 L480.7 293.4 L481.8 294.0 L482.9 295.6 L483.8 295.4 L484.8 294.9 L485.7 294.6 L486.7 294.9 L487.6 295.1 L488.6 295.1 L489.7 295.7 L490.8 296.2 L491.8 296.3 L492.9 296.4 L493.8 296.0 L494.6 296.2 L495.5 295.8 L496.4 296.0 L497.4 295.6 L498.3 296.2 L499.3 296.3 L500.2 296.1 L501.1 295.1 L502.0 294.8 L502.9 294.6 L503.9 292.8 L505.0 291.3 L506.1 291.8 L507.1 292.0 L508.2 292.4 L509.3 292.7 L510.4 291.8 L511.4 290.6 L512.1 290.5 L512.9 289.7 L513.6 289.4 L514.7 288.3 L515.7 286.6 L516.4 285.8 L517.1 284.1 L517.9 284.4 L518.6 285.6 L519.3 286.7 L520.0 287.0 L520.7 287.6 L521.4 287.7 L522.2 288.6 L523.1 290.3 L524.0 290.1 L525.0 289.9 L525.7 289.3 L526.4 288.4 L527.1 290.6 L527.9 292.0 L528.9 298.0 L529.8 297.6 L530.7 297.4 L531.8 296.8 L532.9 296.0 L533.7 296.1 L534.6 295.7 L535.4 295.1 L536.2 295.7 L537.1 295.4 L537.9 295.6 L538.7 294.9 L539.5 293.6 L540.3 293.1 L541.2 293.8 L542.0 294.4 L542.9 294.6 L544.0 293.8 L545.0 292.7 L546.0 292.7 L547.1 292.3 L548.0 291.4 L548.8 291.6 L549.7 290.6 L550.7 291.4 L551.7 291.3 L552.5 292.1 L553.2 292.0 L554.0 292.3 L554.8 292.2 L555.6 291.3 L556.4 291.0 L557.3 291.4 L558.2 291.4 L559.1 290.8 L560.0 291.0 L561.0 289.9 L561.9 289.5 L562.9 288.9 L563.8 288.7 L564.8 288.6 L565.7 288.1 L566.7 288.4 L567.6 288.3 L568.6 289.1 L569.5 289.4 L570.4 288.6 L571.2 289.2 L572.1 288.9 L573.1 289.0 L574.0 289.7 L575.0 290.3 L575.8 290.3 L576.6 289.3 L577.4 289.4 L578.3 288.5 L579.1 288.3 L580.0 287.7 L580.9 287.9 L581.8 288.0 L582.7 287.9 L583.6 287.7 L584.5 287.5 L585.5 286.4 L586.4 285.1 L587.2 283.9 L588.3 282.5 L589.4 280.3 L590.4 279.7 L591.3 279.6 L592.3 279.6 L593.4 278.5 L594.4 277.1 L595.5 276.2 L596.5 277.2 L597.4 277.7 L598.1 278.2 L598.9 278.5 L599.6 278.9 L600.5 278.3 L601.3 277.1 L601.9 275.9 L602.5 274.5 L603.0 276.1 L603.6 278.1 L604.6 281.5 L605.4 280.1 L606.1 278.9 L607.0 278.8 L608.0 278.1 L609.0 279.0 L610.0 279.1 L610.8 280.0 L611.6 281.5 L612.5 280.6 L613.4 278.9 L614.1 279.7 L614.9 279.7 L615.6 280.0 L616.5 280.2 L617.3 280.3 L618.1 279.1 L618.8 278.6 L619.6 277.7 L620.7 278.3 L621.7 278.9 L622.7 278.1 L623.6 277.1 L624.7 276.4 L625.8 276.7 L626.7 278.0 L627.5 278.3 L628.4 279.1 L629.4 277.4 L630.4 275.9 L631.3 276.1 L632.3 275.6 L633.0 275.3 L633.8 274.9 L634.5 274.5 L635.2 273.4 L635.9 271.9 L636.5 269.1 L637.1 267.2 L638.1 264.0 L639.1 267.9 L639.7 266.0 L640.3 264.0 L641.2 264.4 L642.1 265.0 L642.8 266.2 L643.5 266.5 L644.2 267.5 L645.0 267.7 L646.0 265.9 L646.9 264.6 L647.6 263.2 L648.4 261.8 L649.0 262.6 L649.5 264.2 L650.5 269.0 L651.2 266.7 L652.0 264.5 L652.8 263.6 L653.6 262.0 L654.6 259.9 L655.2 253.8 L656.3 245.1 L656.9 241.9 L657.5 237.8 L658.1 243.6 L659.0 249.5 L659.8 242.2 L660.4 239.3 L661.0 236.4 L661.9 234.2 L662.8 243.6 L663.6 234.9 L664.4 233.2 L665.1 239.3 L666.0 233.5 L666.8 230.6 L667.7 223.3 L668.6 216.7 L669.4 214.5 L670.0 216.0 L670.6 209.0 L671.0 200.3 L671.5 195.4 L671.8 187.9 L672.5 186.6 L673.0 192.9 L673.5 189.1 L674.1 180.4 L674.7 171.7 L675.2 171.1 L676.0 180.4 L676.8 189.1 L677.7 194.1 L678.4 197.2 L679.3 194.1 L679.9 185.4 L680.6 190.4 L681.4 180.4 L682.4 174.2 L683.4 171.7 L684.3 166.7 L684.9 172.9 L685.5 174.8 L686.2 165.4 L686.8 160.5 L687.4 161.7 L688.0 164.8 L688.7 163.6 L689.3 175.4 L689.9 166.7 L690.5 161.5" fill="none" stroke="#43a8e8" stroke-width="1.9" stroke-linejoin="round" stroke-linecap="butt"/>

<!-- navigator -->
<rect x="76.2" y="401.3" width="614.8" height="35.3" fill="#cfd7eb"/>
<g stroke="#bfc7d9" stroke-width="1">
<line x1="187.5" y1="401.5" x2="187.5" y2="436.8"/>
<line x1="342.8" y1="401.5" x2="342.8" y2="436.8"/>
<line x1="498" y1="401.5" x2="498" y2="436.8"/>
<line x1="653.3" y1="401.5" x2="653.3" y2="436.8"/>
</g>
<path d="M75.7 435.8 L77.0 435.8 L78.3 435.8 L79.6 435.8 L80.9 435.7 L82.2 435.6 L83.5 435.5 L84.8 435.4 L86.1 435.3 L87.4 435.2 L88.7 435.0 L90.0 434.8 L91.3 434.5 L92.6 434.4 L93.9 434.4 L95.2 434.4 L96.5 434.2 L97.8 433.9 L99.1 433.7 L100.4 433.5 L101.7 433.2 L103.0 433.1 L104.3 433.1 L105.6 433.2 L106.9 433.4 L108.2 433.6 L109.5 433.6 L110.8 433.7 L112.1 433.9 L113.4 434.1 L114.8 434.4 L116.1 434.3 L117.4 434.1 L118.7 434.0 L120.0 434.1 L121.3 434.2 L122.6 434.0 L123.9 433.7 L125.2 433.4 L126.5 433.2 L127.8 433.2 L129.1 433.0 L130.4 432.8 L131.7 432.6 L133.0 432.4 L134.3 432.2 L135.6 432.2 L136.9 432.6 L138.2 432.8 L139.5 432.8 L140.8 433.2 L142.1 433.4 L143.4 433.3 L144.7 433.2 L146.0 433.0 L147.3 432.9 L148.6 432.9 L149.9 432.9 L151.2 432.9 L152.5 432.9 L153.8 432.8 L155.1 432.7 L156.4 432.9 L157.7 433.0 L159.0 433.0 L160.3 433.0 L161.6 432.9 L162.9 432.9 L164.2 432.5 L165.5 432.1 L166.8 431.9 L168.1 431.8 L169.4 431.5 L170.7 431.1 L172.0 430.4 L173.3 430.1 L174.6 429.9 L175.9 429.5 L177.2 429.2 L178.5 428.3 L179.8 426.2 L181.1 423.9 L182.4 422.1 L183.7 422.3 L185.0 421.9 L186.3 420.6 L187.6 417.9 L188.9 414.8 L190.2 413.5 L191.6 414.4 L192.9 415.9 L194.2 418.9 L195.5 419.7 L196.8 419.9 L198.1 419.8 L199.4 420.0 L200.7 422.4 L202.0 425.2 L203.3 425.5 L204.6 423.7 L205.9 422.9 L207.2 422.2 L208.5 422.6 L209.8 423.9 L211.1 424.1 L212.4 424.1 L213.7 424.3 L215.0 425.1 L216.3 426.1 L217.6 426.7 L218.9 427.8 L220.2 428.1 L221.5 427.9 L222.8 428.5 L224.1 429.4 L225.4 429.9 L226.7 430.0 L228.0 429.9 L229.3 429.6 L230.6 428.7 L231.9 427.7 L233.2 426.9 L234.5 425.6 L235.8 424.9 L237.1 424.6 L238.4 424.1 L239.7 423.5 L241.0 423.6 L242.3 424.6 L243.6 425.1 L244.9 425.5 L246.2 425.8 L247.5 426.2 L248.8 426.9 L250.1 427.5 L251.4 427.3 L252.7 426.7 L254.0 426.8 L255.3 427.4 L256.6 428.3 L257.9 428.6 L259.2 428.5 L260.5 428.9 L261.8 429.5 L263.1 429.9 L264.4 429.5 L265.7 429.2 L267.0 429.2 L268.4 429.4 L269.7 429.5 L271.0 429.2 L272.3 429.2 L273.6 429.3 L274.9 429.3 L276.2 429.5 L277.5 429.8 L278.8 430.2 L280.1 430.6 L281.4 431.2 L282.7 431.8 L284.0 431.9 L285.3 431.7 L286.6 431.7 L287.9 431.7 L289.2 431.5 L290.5 431.4 L291.8 431.5 L293.1 432.0 L294.4 432.4 L295.7 432.5 L297.0 432.3 L298.3 432.0 L299.6 431.7 L300.9 431.5 L302.2 431.4 L303.5 431.5 L304.8 431.5 L306.1 431.7 L307.4 432.0 L308.7 432.1 L310.0 432.0 L311.3 431.9 L312.6 431.8 L313.9 431.9 L315.2 431.9 L316.5 431.9 L317.8 431.8 L319.1 431.6 L320.4 431.6 L321.7 431.9 L323.0 432.3 L324.3 432.9 L325.6 433.3 L326.9 433.5 L328.2 433.5 L329.5 433.5 L330.8 433.8 L332.1 434.0 L333.4 434.1 L334.7 434.1 L336.0 434.0 L337.3 433.6 L338.6 433.4 L339.9 433.5 L341.2 433.6 L342.5 433.5 L343.8 433.4 L345.1 433.3 L346.5 433.4 L347.8 433.6 L349.1 433.6 L350.4 433.6 L351.7 433.7 L353.0 433.7 L354.3 433.8 L355.6 433.9 L356.9 433.9 L358.2 433.9 L359.5 433.8 L360.8 433.6 L362.1 433.6 L363.4 433.4 L364.7 433.3 L366.0 433.4 L367.3 433.5 L368.6 433.5 L369.9 433.5 L371.2 433.4 L372.5 433.4 L373.8 433.3 L375.1 433.2 L376.4 433.2 L377.7 433.1 L379.0 433.1 L380.3 433.0 L381.6 432.6 L382.9 432.3 L384.2 432.4 L385.5 432.5 L386.8 432.5 L388.1 432.5 L389.4 432.5 L390.7 432.6 L392.0 432.7 L393.3 432.7 L394.6 432.6 L395.9 432.5 L397.2 432.5 L398.5 432.2 L399.8 431.6 L401.1 431.5 L402.4 431.4 L403.7 431.2 L405.0 430.9 L406.3 430.8 L407.6 430.9 L408.9 431.1 L410.2 431.2 L411.5 431.1 L412.8 430.9 L414.1 430.7 L415.4 430.3 L416.7 430.2 L418.0 430.3 L419.3 430.7 L420.6 430.8 L421.9 430.7 L423.3 430.8 L424.6 431.5 L425.9 432.0 L427.2 431.9 L428.5 431.8 L429.8 431.9 L431.1 432.0 L432.4 431.9 L433.7 431.8 L435.0 431.8 L436.3 432.0 L437.6 432.2 L438.9 432.4 L440.2 432.5 L441.5 432.5 L442.8 432.5 L444.1 432.6 L445.4 432.8 L446.7 432.8 L448.0 432.7 L449.3 432.7 L450.6 432.7 L451.9 432.5 L453.2 432.4 L454.5 432.6 L455.8 433.0 L457.1 433.1 L458.4 433.1 L459.7 433.0 L461.0 432.9 L462.3 432.8 L463.6 432.8 L464.9 432.8 L466.2 432.9 L467.5 432.9 L468.8 432.9 L470.1 432.7 L471.4 432.5 L472.7 432.5 L474.0 432.5 L475.3 432.5 L476.6 432.5 L477.9 432.6 L479.2 432.8 L480.5 433.1 L481.8 433.3 L483.1 433.3 L484.4 433.2 L485.7 433.2 L487.0 433.3 L488.3 433.3 L489.6 433.4 L490.9 433.5 L492.2 433.6 L493.5 433.5 L494.8 433.5 L496.1 433.5 L497.4 433.5 L498.7 433.5 L500.1 433.4 L501.4 433.3 L502.7 433.0 L504.0 432.6 L505.3 432.5 L506.6 432.6 L507.9 432.7 L509.2 432.6 L510.5 432.4 L511.8 432.2 L513.1 432.0 L514.4 431.6 L515.7 431.2 L517.0 431.1 L518.3 431.3 L519.6 431.6 L520.9 431.8 L522.2 432.1 L523.5 432.2 L524.8 432.0 L526.1 432.1 L527.4 433.0 L528.7 433.8 L530.0 433.8 L531.3 433.6 L532.6 433.5 L533.9 433.4 L535.2 433.3 L536.5 433.4 L537.8 433.2 L539.1 433.0 L540.4 433.0 L541.7 433.1 L543.0 433.0 L544.3 432.8 L545.6 432.7 L546.9 432.6 L548.2 432.4 L549.5 432.4 L550.8 432.5 L552.1 432.6 L553.4 432.6 L554.7 432.5 L556.0 432.4 L557.3 432.4 L558.6 432.4 L559.9 432.3 L561.2 432.1 L562.5 431.9 L563.8 431.8 L565.1 431.8 L566.4 431.9 L567.7 432.0 L569.0 432.0 L570.3 432.0 L571.6 432.0 L572.9 432.1 L574.2 432.2 L575.5 432.2 L576.9 432.0 L578.2 431.9 L579.5 431.7 L580.8 431.7 L582.1 431.7 L583.4 431.6 L584.7 431.4 L586.0 431.1 L587.3 430.6 L588.6 430.2 L589.9 430.0 L591.2 429.9 L592.5 429.7 L593.8 429.4 L595.1 429.3 L596.4 429.4 L597.7 429.6 L599.0 429.7 L600.3 429.5 L601.6 429.1 L602.9 429.5 L604.2 430.1 L605.5 429.9 L606.8 429.7 L608.1 429.7 L609.4 429.9 L610.7 430.1 L612.0 430.0 L613.3 429.9 L614.6 430.0 L615.9 430.0 L617.2 429.9 L618.5 429.7 L619.8 429.6 L621.1 429.7 L622.4 429.5 L623.7 429.4 L625.0 429.4 L626.3 429.5 L627.6 429.7 L628.9 429.4 L630.2 429.1 L631.5 429.1 L632.8 428.9 L634.1 428.7 L635.4 428.1 L636.7 427.2 L638.0 427.0 L639.3 426.9 L640.6 426.7 L641.9 426.9 L643.2 427.1 L644.5 427.2 L645.8 426.8 L647.1 426.4 L648.4 426.4 L649.7 427.1 L651.0 426.9 L652.3 426.3 L653.7 425.6 L655.0 423.9 L656.3 422.0 L657.6 422.1 L658.9 422.3 L660.2 420.9 L661.5 420.9 L662.8 420.9 L664.1 420.4 L665.4 420.1 L666.7 418.5 L668.0 416.7 L669.3 415.5 L670.6 412.8 L671.9 410.5 L673.2 409.2 L674.5 407.4 L675.8 409.0 L677.1 411.1 L678.4 411.3 L679.7 410.2 L681.0 408.6 L682.3 406.9 L683.6 406.3 L684.9 406.2 L686.2 404.9 L687.5 404.8 L688.8 405.7 L690.1 404.8 L691 436.6 L76.2 436.6 Z" fill="#eaf4fd" fill-opacity="0.22" stroke="none"/>
<path d="M75.7 435.8 L77.0 435.8 L78.3 435.8 L79.6 435.8 L80.9 435.7 L82.2 435.6 L83.5 435.5 L84.8 435.4 L86.1 435.3 L87.4 435.2 L88.7 435.0 L90.0 434.8 L91.3 434.5 L92.6 434.4 L93.9 434.4 L95.2 434.4 L96.5 434.2 L97.8 433.9 L99.1 433.7 L100.4 433.5 L101.7 433.2 L103.0 433.1 L104.3 433.1 L105.6 433.2 L106.9 433.4 L108.2 433.6 L109.5 433.6 L110.8 433.7 L112.1 433.9 L113.4 434.1 L114.8 434.4 L116.1 434.3 L117.4 434.1 L118.7 434.0 L120.0 434.1 L121.3 434.2 L122.6 434.0 L123.9 433.7 L125.2 433.4 L126.5 433.2 L127.8 433.2 L129.1 433.0 L130.4 432.8 L131.7 432.6 L133.0 432.4 L134.3 432.2 L135.6 432.2 L136.9 432.6 L138.2 432.8 L139.5 432.8 L140.8 433.2 L142.1 433.4 L143.4 433.3 L144.7 433.2 L146.0 433.0 L147.3 432.9 L148.6 432.9 L149.9 432.9 L151.2 432.9 L152.5 432.9 L153.8 432.8 L155.1 432.7 L156.4 432.9 L157.7 433.0 L159.0 433.0 L160.3 433.0 L161.6 432.9 L162.9 432.9 L164.2 432.5 L165.5 432.1 L166.8 431.9 L168.1 431.8 L169.4 431.5 L170.7 431.1 L172.0 430.4 L173.3 430.1 L174.6 429.9 L175.9 429.5 L177.2 429.2 L178.5 428.3 L179.8 426.2 L181.1 423.9 L182.4 422.1 L183.7 422.3 L185.0 421.9 L186.3 420.6 L187.6 417.9 L188.9 414.8 L190.2 413.5 L191.6 414.4 L192.9 415.9 L194.2 418.9 L195.5 419.7 L196.8 419.9 L198.1 419.8 L199.4 420.0 L200.7 422.4 L202.0 425.2 L203.3 425.5 L204.6 423.7 L205.9 422.9 L207.2 422.2 L208.5 422.6 L209.8 423.9 L211.1 424.1 L212.4 424.1 L213.7 424.3 L215.0 425.1 L216.3 426.1 L217.6 426.7 L218.9 427.8 L220.2 428.1 L221.5 427.9 L222.8 428.5 L224.1 429.4 L225.4 429.9 L226.7 430.0 L228.0 429.9 L229.3 429.6 L230.6 428.7 L231.9 427.7 L233.2 426.9 L234.5 425.6 L235.8 424.9 L237.1 424.6 L238.4 424.1 L239.7 423.5 L241.0 423.6 L242.3 424.6 L243.6 425.1 L244.9 425.5 L246.2 425.8 L247.5 426.2 L248.8 426.9 L250.1 427.5 L251.4 427.3 L252.7 426.7 L254.0 426.8 L255.3 427.4 L256.6 428.3 L257.9 428.6 L259.2 428.5 L260.5 428.9 L261.8 429.5 L263.1 429.9 L264.4 429.5 L265.7 429.2 L267.0 429.2 L268.4 429.4 L269.7 429.5 L271.0 429.2 L272.3 429.2 L273.6 429.3 L274.9 429.3 L276.2 429.5 L277.5 429.8 L278.8 430.2 L280.1 430.6 L281.4 431.2 L282.7 431.8 L284.0 431.9 L285.3 431.7 L286.6 431.7 L287.9 431.7 L289.2 431.5 L290.5 431.4 L291.8 431.5 L293.1 432.0 L294.4 432.4 L295.7 432.5 L297.0 432.3 L298.3 432.0 L299.6 431.7 L300.9 431.5 L302.2 431.4 L303.5 431.5 L304.8 431.5 L306.1 431.7 L307.4 432.0 L308.7 432.1 L310.0 432.0 L311.3 431.9 L312.6 431.8 L313.9 431.9 L315.2 431.9 L316.5 431.9 L317.8 431.8 L319.1 431.6 L320.4 431.6 L321.7 431.9 L323.0 432.3 L324.3 432.9 L325.6 433.3 L326.9 433.5 L328.2 433.5 L329.5 433.5 L330.8 433.8 L332.1 434.0 L333.4 434.1 L334.7 434.1 L336.0 434.0 L337.3 433.6 L338.6 433.4 L339.9 433.5 L341.2 433.6 L342.5 433.5 L343.8 433.4 L345.1 433.3 L346.5 433.4 L347.8 433.6 L349.1 433.6 L350.4 433.6 L351.7 433.7 L353.0 433.7 L354.3 433.8 L355.6 433.9 L356.9 433.9 L358.2 433.9 L359.5 433.8 L360.8 433.6 L362.1 433.6 L363.4 433.4 L364.7 433.3 L366.0 433.4 L367.3 433.5 L368.6 433.5 L369.9 433.5 L371.2 433.4 L372.5 433.4 L373.8 433.3 L375.1 433.2 L376.4 433.2 L377.7 433.1 L379.0 433.1 L380.3 433.0 L381.6 432.6 L382.9 432.3 L384.2 432.4 L385.5 432.5 L386.8 432.5 L388.1 432.5 L389.4 432.5 L390.7 432.6 L392.0 432.7 L393.3 432.7 L394.6 432.6 L395.9 432.5 L397.2 432.5 L398.5 432.2 L399.8 431.6 L401.1 431.5 L402.4 431.4 L403.7 431.2 L405.0 430.9 L406.3 430.8 L407.6 430.9 L408.9 431.1 L410.2 431.2 L411.5 431.1 L412.8 430.9 L414.1 430.7 L415.4 430.3 L416.7 430.2 L418.0 430.3 L419.3 430.7 L420.6 430.8 L421.9 430.7 L423.3 430.8 L424.6 431.5 L425.9 432.0 L427.2 431.9 L428.5 431.8 L429.8 431.9 L431.1 432.0 L432.4 431.9 L433.7 431.8 L435.0 431.8 L436.3 432.0 L437.6 432.2 L438.9 432.4 L440.2 432.5 L441.5 432.5 L442.8 432.5 L444.1 432.6 L445.4 432.8 L446.7 432.8 L448.0 432.7 L449.3 432.7 L450.6 432.7 L451.9 432.5 L453.2 432.4 L454.5 432.6 L455.8 433.0 L457.1 433.1 L458.4 433.1 L459.7 433.0 L461.0 432.9 L462.3 432.8 L463.6 432.8 L464.9 432.8 L466.2 432.9 L467.5 432.9 L468.8 432.9 L470.1 432.7 L471.4 432.5 L472.7 432.5 L474.0 432.5 L475.3 432.5 L476.6 432.5 L477.9 432.6 L479.2 432.8 L480.5 433.1 L481.8 433.3 L483.1 433.3 L484.4 433.2 L485.7 433.2 L487.0 433.3 L488.3 433.3 L489.6 433.4 L490.9 433.5 L492.2 433.6 L493.5 433.5 L494.8 433.5 L496.1 433.5 L497.4 433.5 L498.7 433.5 L500.1 433.4 L501.4 433.3 L502.7 433.0 L504.0 432.6 L505.3 432.5 L506.6 432.6 L507.9 432.7 L509.2 432.6 L510.5 432.4 L511.8 432.2 L513.1 432.0 L514.4 431.6 L515.7 431.2 L517.0 431.1 L518.3 431.3 L519.6 431.6 L520.9 431.8 L522.2 432.1 L523.5 432.2 L524.8 432.0 L526.1 432.1 L527.4 433.0 L528.7 433.8 L530.0 433.8 L531.3 433.6 L532.6 433.5 L533.9 433.4 L535.2 433.3 L536.5 433.4 L537.8 433.2 L539.1 433.0 L540.4 433.0 L541.7 433.1 L543.0 433.0 L544.3 432.8 L545.6 432.7 L546.9 432.6 L548.2 432.4 L549.5 432.4 L550.8 432.5 L552.1 432.6 L553.4 432.6 L554.7 432.5 L556.0 432.4 L557.3 432.4 L558.6 432.4 L559.9 432.3 L561.2 432.1 L562.5 431.9 L563.8 431.8 L565.1 431.8 L566.4 431.9 L567.7 432.0 L569.0 432.0 L570.3 432.0 L571.6 432.0 L572.9 432.1 L574.2 432.2 L575.5 432.2 L576.9 432.0 L578.2 431.9 L579.5 431.7 L580.8 431.7 L582.1 431.7 L583.4 431.6 L584.7 431.4 L586.0 431.1 L587.3 430.6 L588.6 430.2 L589.9 430.0 L591.2 429.9 L592.5 429.7 L593.8 429.4 L595.1 429.3 L596.4 429.4 L597.7 429.6 L599.0 429.7 L600.3 429.5 L601.6 429.1 L602.9 429.5 L604.2 430.1 L605.5 429.9 L606.8 429.7 L608.1 429.7 L609.4 429.9 L610.7 430.1 L612.0 430.0 L613.3 429.9 L614.6 430.0 L615.9 430.0 L617.2 429.9 L618.5 429.7 L619.8 429.6 L621.1 429.7 L622.4 429.5 L623.7 429.4 L625.0 429.4 L626.3 429.5 L627.6 429.7 L628.9 429.4 L630.2 429.1 L631.5 429.1 L632.8 428.9 L634.1 428.7 L635.4 428.1 L636.7 427.2 L638.0 427.0 L639.3 426.9 L640.6 426.7 L641.9 426.9 L643.2 427.1 L644.5 427.2 L645.8 426.8 L647.1 426.4 L648.4 426.4 L649.7 427.1 L651.0 426.9 L652.3 426.3 L653.7 425.6 L655.0 423.9 L656.3 422.0 L657.6 422.1 L658.9 422.3 L660.2 420.9 L661.5 420.9 L662.8 420.9 L664.1 420.4 L665.4 420.1 L666.7 418.5 L668.0 416.7 L669.3 415.5 L670.6 412.8 L671.9 410.5 L673.2 409.2 L674.5 407.4 L675.8 409.0 L677.1 411.1 L678.4 411.3 L679.7 410.2 L681.0 408.6 L682.3 406.9 L683.6 406.3 L684.9 406.2 L686.2 404.9 L687.5 404.8 L688.8 405.7 L690.1 404.8" fill="none" stroke="#66abdf" stroke-width="1.15" stroke-linejoin="round"/>
<g font-size="10.8" fill="#959aa3" stroke="#959aa3" stroke-width="0.45">
<text x="191" y="433.4" textLength="23.5" lengthAdjust="spacingAndGlyphs">2018</text>
<text x="346.5" y="433.4" textLength="23.5" lengthAdjust="spacingAndGlyphs">2019</text>
<text x="501.7" y="433.4" textLength="23.5" lengthAdjust="spacingAndGlyphs">2020</text>
<text x="657" y="433.4" textLength="23.5" lengthAdjust="spacingAndGlyphs">2021</text>
</g>
<line x1="76.2" y1="401.4" x2="691" y2="401.4" stroke="#c4c8d0" stroke-width="0.9"/>
<!-- handles -->
<g>
<rect x="73.2" y="412.6" width="7" height="12.6" rx="1" fill="#f8f8f8" stroke="#8c8c8c" stroke-width="0.9"/>
<line x1="75.6" y1="415.2" x2="75.6" y2="422.7" stroke="#8a8a8a" stroke-width="0.7"/>
<line x1="77.4" y1="415.2" x2="77.4" y2="422.7" stroke="#8a8a8a" stroke-width="0.7"/>
<rect x="687.5" y="412.6" width="7" height="12.6" rx="1" fill="#f8f8f8" stroke="#8c8c8c" stroke-width="0.9"/>
<line x1="690" y1="415.2" x2="690" y2="422.7" stroke="#8a8a8a" stroke-width="0.7"/>
<line x1="691.6" y1="415.2" x2="691.6" y2="422.7" stroke="#8a8a8a" stroke-width="0.7"/>
</g>

<!-- legend -->
<line x1="271.5" y1="457.8" x2="285" y2="457.8" stroke="#43a8e8" stroke-width="2"/>
<text x="289.8" y="461.1" font-size="12" font-weight="bold" fill="#4f84c4" textLength="61" lengthAdjust="spacingAndGlyphs">Market Cap</text>
<circle cx="375.7" cy="457.2" r="5.2" fill="#777777"/>
<text x="387.7" y="461.1" font-size="12" font-weight="bold" fill="#4f84c4" textLength="41" lengthAdjust="spacingAndGlyphs">24h Vol</text>

<!-- credits -->
<text x="616.5" y="476.8" font-size="8.8" fill="#939393" stroke="#939393" stroke-width="0.2" textLength="74" lengthAdjust="spacingAndGlyphs">coinmarketcap.com</text>
</svg>
</body>
</html>
